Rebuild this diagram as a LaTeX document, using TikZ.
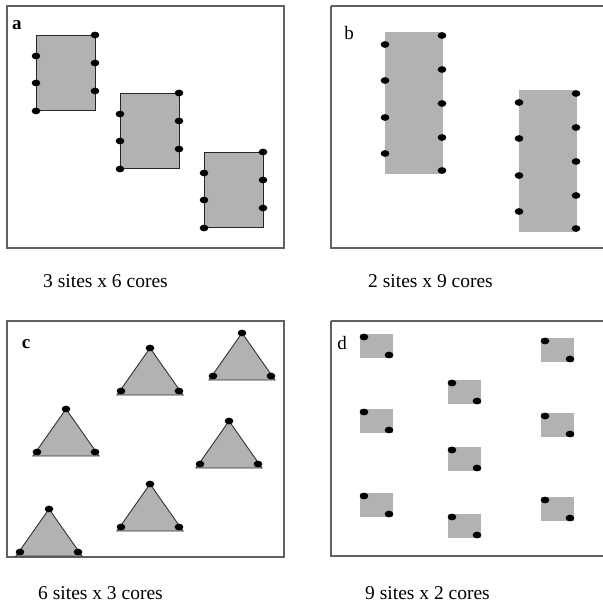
\documentclass[tikz,border=0pt]{standalone}
\usepackage{fontspec}
\setmainfont{Liberation Serif}
\begin{document}
\begin{tikzpicture}[x=1pt,y=-1pt,
  frame/.style={draw=black!62,line width=1.5pt},
  siteA/.style={fill=black!30,draw=black!85,line width=0.9pt},
  tri/.style={fill=black!30,draw=black!80,line width=0.9pt,line join=miter},
  ptext/.style={font=\fontsize{19.5}{22}\selectfont,anchor=base west,inner sep=0pt},
  plabel/.style={font=\fontsize{19}{22}\selectfont,inner sep=0pt}]
\useasboundingbox (0,0) rectangle (602,607);
\fill[white] (0,0) rectangle (602,607);
\newcommand{\coredot}[1]{\fill[black] #1 ellipse [x radius=4.3, y radius=3.4];}
% ---------- panel a ----------
\draw[frame] (7,6) rectangle (284,248);
\node[plabel,font=\fontsize{19}{22}\selectfont\bfseries] (la) at (17,25) {a};
\foreach \L/\T [count=\i] in {36/35,120/93,204/152}{
  \draw[siteA] (\L,\T) rectangle ++(59,75);
  \foreach \dy in {21,48,76}{\coredot{(\L,\T+\dy)}}
  \foreach \dy in {0,28,56}{\coredot{(\L+59,\T+\dy)}}
}
% ---------- panel b ----------
\draw[frame] (331,6) -- (606,6) (331,6) -- (331,248) -- (606,248);
\node[plabel] (lb) at (349,33) {b};
\foreach \L/\T in {385/32,519/90}{
  \fill[black!30] (\L,\T) rectangle ++(58,142);
  \foreach \dy in {12.5,48.5,85.5,121.5}{\coredot{(\L,\T+\dy)}}
  \foreach \dy in {3.5,37.5,71.5,105.5,138.5}{\coredot{(\L+57,\T+\dy)}}
}
% ---------- panel c ----------
\draw[frame] (7,321) rectangle (284,557);
\node[plabel,font=\fontsize{19}{22}\selectfont\bfseries] (lc) at (26,344) {c};
\foreach \X/\Y in {150/348,242/333,66/409,229/421,150/484,49/509}{
  \draw[tri] (\X,\Y) -- (\X-33,\Y+47) -- (\X+33,\Y+47) -- cycle;
  \coredot{(\X,\Y)}
  \coredot{(\X-29,\Y+43)}
  \coredot{(\X+29,\Y+43)}
}
% ---------- panel d ----------
\draw[frame] (331,321) -- (606,321) (331,321) -- (331,556) -- (606,556);
\node[plabel] (ld) at (342,343) {d};
\foreach \L/\T in {360/334,360/409,360/493,448/380,448/447,448/514,541/338,541/413,541/497}{
  \fill[black!30] (\L,\T) rectangle ++(33,24);
  \coredot{(\L+4,\T+3)}
  \coredot{(\L+29,\T+21)}
}
% ---------- captions ----------
\node[ptext] (ca) at (43,287) {3 sites x 6 cores};
\node[ptext] (cb) at (368,287) {2 sites x 9 cores};
\node[ptext] (cc) at (38,599) {6 sites x 3 cores};
\node[ptext] (cd) at (365,599) {9 sites x 2 cores};
\end{tikzpicture}
\end{document}
